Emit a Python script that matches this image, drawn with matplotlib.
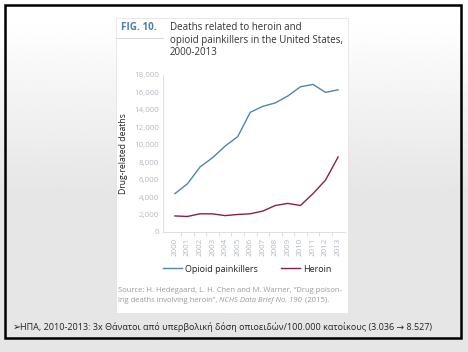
import numpy as np
import matplotlib.pyplot as plt
from matplotlib.patches import Rectangle
from matplotlib.lines import Line2D

plt.rcParams["font.family"] = ["Open Sans", "DejaVu Sans"]

years = ["2000", "2001", "2002", "2003", "2004", "2005", "2006",
         "2007", "2008", "2009", "2010", "2011", "2012", "2013"]
opioid = [4400, 5528, 7456, 8517, 9857, 10928, 13723,
          14408, 14800, 15597, 16651, 16917, 16007, 16300]
heroin = [1842, 1779, 2089, 2080, 1878, 2009, 2088,
          2399, 3041, 3278, 3036, 4400, 5950, 8600]
y_ticks = [0, 2000, 4000, 6000, 8000, 10000, 12000, 14000, 16000, 18000]

W, H = 468, 352
BLUE = "#4f86b0"
MAROON = "#8a1f48"
TICK = "#b3b9c2"


def fx(x):
    return x / W


def fy(y):
    return 1 - y / H


fig = plt.figure(figsize=(W / 100, H / 100), dpi=100)
fig.patch.set_facecolor("white")

# fond du slide : dégradé blanc -> gris
bg = fig.add_axes([0, 0, 1, 1], zorder=-10)
grad = np.linspace(0, 1, 256).reshape(-1, 1)
grad = np.clip((grad - 0.05) / 0.5, 0, 1)
bg.imshow(1 - 0.1 * grad, cmap="gray", vmin=0, vmax=1, aspect="auto",
          extent=[0, 1, 0, 1])
bg.set_xlim(0, 1)
bg.set_ylim(0, 1)
bg.axis("off")

# cadre noir
bg.add_patch(Rectangle((fx(5), fy(338)), fx(456), 333 / H,
                       fill=False, edgecolor="black", linewidth=1.8,
                       transform=fig.transFigure))
# panneau blanc
bg.add_patch(Rectangle((fx(116), fy(313)), fx(232), 295 / H,
                       facecolor="white", edgecolor="#e4e4e4", linewidth=0.6,
                       transform=fig.transFigure))
fig.add_artist(Line2D([fx(117), fx(163)], [fy(38), fy(38)],
                      color="#d0d0d0", linewidth=0.6))

fig.text(fx(121), fy(27), "FIG. 10.", color="#4a7db0", fontsize=7.1,
         fontweight="bold", va="center")
fig.text(fx(170), fy(40), "Deaths related to heroin and\n"
         "opioid painkillers in the United States,\n2000-2013",
         color="#333333", fontsize=7.05, va="center", linespacing=1.24)

ax = fig.add_axes([fx(163), fy(232), fx(182), 157 / H])
x = np.arange(len(years))
ax.plot(x, opioid, color=BLUE, linewidth=1.0)
ax.plot(x, heroin, color=MAROON, linewidth=1.0)
ax.set_xlim(-0.95, 13.55)
ax.set_ylim(0, 18000)
ax.set_yticks(y_ticks)
ax.set_yticklabels([f"{v:,}" for v in y_ticks])
ax.set_xticks(x)
ax.set_xticklabels(years, rotation=90)
ax.set_xticks(x[:-1] + 0.5, minor=True)
ax.tick_params(axis="x", which="major", length=0, labelsize=5.8,
               labelcolor=TICK, pad=4)
ax.tick_params(axis="x", which="minor", length=3, color="#d6d9de", width=0.6)
ax.tick_params(axis="y", length=0, labelsize=5.8, labelcolor=TICK, pad=3)
for s in ["top", "right"]:
    ax.spines[s].set_visible(False)
for s in ["left", "bottom"]:
    ax.spines[s].set_color("#d6d9de")
    ax.spines[s].set_linewidth(0.6)
ax.set_ylabel("Drug-related deaths", fontsize=6.2, color="#222222", labelpad=4)
ax.patch.set_alpha(0)

leg = fig.legend(handles=[Line2D([], [], color=BLUE, linewidth=1.0),
                          Line2D([], [], color=MAROON, linewidth=1.0)],
                 labels=["Opioid painkillers", "Heroin"], ncol=2,
                 loc="center", bbox_to_anchor=(fx(247), fy(269)),
                 frameon=False, fontsize=6.5, handlelength=2.2,
                 handletextpad=0.3, columnspacing=2.5)
for t in leg.get_texts():
    t.set_color("#222222")

src = dict(fontsize=5.5, color="#9a9a9a", va="center")
fig.text(fx(118), fy(291),
         "Source: H. Hedegaard, L. H. Chen and M. Warner, \u201cDrug poison-", **src)
s1 = fig.text(fx(118), fy(300), "ing deaths involving heroin\u201d, ", **src)
s2 = fig.text(0, 0, "NCHS Data Brief No. 190", style="italic", **src)
s3 = fig.text(0, 0, " (2015).", **src)
fig.canvas.draw()
r = fig.canvas.get_renderer()
b1 = s1.get_window_extent(r)
s2.set_position((b1.x1 / W, fy(300)))
b2 = s2.get_window_extent(r)
s3.set_position((b2.x1 / W + 1 / W, fy(300)))

fig.text(fx(13), fy(327), "\u27a2", fontsize=7, color="#222222", va="center",
         family=["DejaVu Sans"])
fig.text(fx(20), fy(327),
         "\u0397\u03a0\u0391, 2010-2013: 3x \u0398\u03ac\u03bd\u03b1\u03c4\u03bf\u03b9 "
         "\u03b1\u03c0\u03cc \u03c5\u03c0\u03b5\u03c1\u03b2\u03bf\u03bb\u03b9\u03ba\u03ae "
         "\u03b4\u03cc\u03c3\u03b7 \u03bf\u03c0\u03b9\u03bf\u03b5\u03b9\u03b4\u03ce\u03bd/"
         "100.000 \u03ba\u03b1\u03c4\u03bf\u03af\u03ba\u03bf\u03c5\u03c2 (3.036 \u2192 8.527)",
         fontsize=6.5, color="#222222", va="center")

fig.savefig("out.png", dpi=100)
